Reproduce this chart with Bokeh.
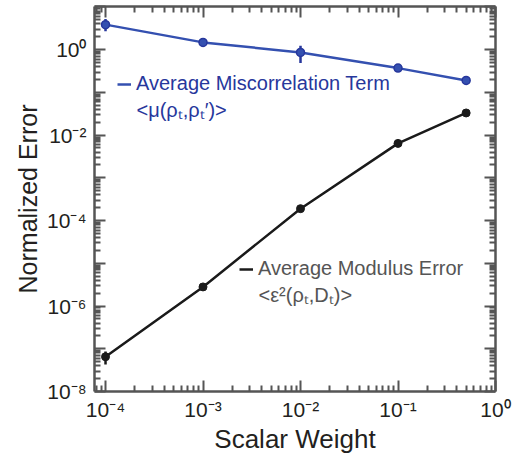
import numpy as np
from bokeh.plotting import figure
from bokeh.models import (LogAxis, FixedTicker, CustomJSTickFormatter, Label,
                          Range1d, ColumnDataSource, Legend, LegendItem)
from bokeh.embed import file_html
from bokeh.resources import INLINE

# ---- data ----
scalar_weight = [1e-4, 1e-3, 1e-2, 1e-1, 0.5]
miscorr = [3.85, 1.48, 0.86, 0.37, 0.19]
miscorr_lo = [2.7, 1.2, 0.49, 0.35, 0.18]
miscorr_hi = [5.2, 1.8, 1.24, 0.39, 0.20]
modulus = [6.5e-8, 2.8e-6, 1.9e-4, 6.4e-3, 0.033]
modulus_lo = [4.3e-8, 2.6e-6, 1.8e-4, 6.1e-3, 0.031]
modulus_hi = [8.6e-8, 3.0e-6, 2.0e-4, 6.7e-3, 0.035]

x_decades = [-4, -3, -2, -1, 0]
x_tick_labels = ["10\u207b\u2074", "10\u207b\u00b3", "10\u207b\u00b2", "10\u207b\u00b9", "10\u2070"]
y_decades = [-8, -7, -6, -5, -4, -3, -2, -1, 0, 1]
y_label_decades = [-8, -6, -4, -2, 0]
y_tick_labels = ["10\u207b\u2078", "10\u207b\u2076", "10\u207b\u2074", "10\u207b\u00b2", "10\u2070"]

legend1_line1 = "Average Miscorrelation Term"
legend1_line2 = "<\u03bc(\u03c1\u209c,\u03c1\u209c\u2032)>"
legend2_line1 = "Average Modulus Error"
legend2_line2 = "<\u03b5\u00b2(\u03c1\u209c,D\u209c)>"

BLUE = "#3450b0"
BLUE_DARK = "#27379c"
BLACK = "#1a1a1a"
AXIS = "#555555"
TXT = "#231f20"
FONT = "Liberation Sans"

x_start, x_end = 10 ** -4.113, 1.0
y_start, y_end = 1e-8, 10 ** 1.01

p = figure(width=512, height=456, x_axis_type="log", y_axis_type="log",
           x_range=Range1d(x_start, x_end), y_range=Range1d(y_start, y_end),
           output_backend="svg", toolbar_location=None,
           min_border_left=94, min_border_right=17, min_border_top=6,
           min_border_bottom=64)
p.outline_line_color = None
p.grid.visible = False
p.background_fill_color = "white"

xmaj = [10.0 ** e for e in x_decades]
xmin = [k * 10.0 ** e for e in range(-5, 1) for k in range(2, 10)]
ymaj = [10.0 ** e for e in y_decades]
ymin = [k * 10.0 ** e for e in range(-9, 2) for k in range(2, 10)]
blank = CustomJSTickFormatter(code="return ''")
js = """
const e = Math.round(Math.log10(tick));
const i = decs.indexOf(e);
return i >= 0 ? labs[i] : '';
"""
xfmt = CustomJSTickFormatter(args=dict(decs=x_decades, labs=x_tick_labels), code=js)
yfmt = CustomJSTickFormatter(args=dict(decs=y_label_decades, labs=y_tick_labels), code=js)


def style(ax, major, minor, fmt):
    ax.ticker = FixedTicker(ticks=major, minor_ticks=minor)
    ax.formatter = fmt
    ax.axis_line_color = AXIS
    ax.axis_line_width = 2.5
    ax.major_tick_line_color = AXIS
    ax.minor_tick_line_color = AXIS
    ax.major_tick_line_width = 2
    ax.minor_tick_line_width = 2
    ax.major_tick_in = 11
    ax.major_tick_out = 0
    ax.minor_tick_in = 6
    ax.minor_tick_out = 0
    ax.major_label_standoff = 0
    ax.major_label_text_font = FONT
    ax.major_label_text_font_size = "21px"
    ax.major_label_text_color = TXT
    ax.axis_label_text_font = FONT
    ax.axis_label_text_font_style = "normal"
    ax.axis_label_text_font_size = "25px"
    ax.axis_label_text_color = TXT


style(p.xaxis[0], xmaj, xmin, xfmt)
style(p.yaxis[0], ymaj, ymin, yfmt)
p.xaxis.axis_label = "Scalar Weight"
p.yaxis.axis_label = "Normalized Error"
p.xaxis.axis_label_text_font_size = "26px"
p.xaxis.major_label_standoff = 6
p.yaxis.major_label_standoff = 8
p.xaxis.axis_label_standoff = 0
p.yaxis.axis_label_standoff = 2

top = LogAxis()
style(top, xmaj, xmin, blank)
p.add_layout(top, "above")
right = LogAxis()
style(right, ymaj, ymin, blank)
p.add_layout(right, "right")

# ---- series ----
src1 = ColumnDataSource(dict(x=scalar_weight, y=miscorr, lo=miscorr_lo, hi=miscorr_hi))
src2 = ColumnDataSource(dict(x=scalar_weight, y=modulus, lo=modulus_lo, hi=modulus_hi))

p.segment(x0="x", y0="lo", x1="x", y1="hi", source=src1, line_color=BLUE_DARK, line_width=2.5)
l1 = p.line("x", "y", source=src1, line_color=BLUE, line_width=2.5)
p.scatter("x", "y", source=src1, size=8, fill_color=BLUE, line_color=BLUE_DARK, line_width=1.5)

p.segment(x0="x", y0="lo", x1="x", y1="hi", source=src2, line_color=BLACK, line_width=2.5)
l2 = p.line("x", "y", source=src2, line_color=BLACK, line_width=2.5)
p.scatter("x", "y", source=src2, size=8, fill_color=BLACK, line_color=BLACK)


# ---- legends ----
def make_legend(renderer, text, color, loc):
    lg = Legend(items=[LegendItem(label=text, renderers=[renderer])], location=loc,
                padding=0, margin=0, spacing=0, border_line_color=None,
                background_fill_alpha=0, glyph_width=14, glyph_height=20,
                label_standoff=5, label_text_font=FONT, label_text_font_size="20px",
                label_text_color=color, label_height=20)
    p.add_layout(lg)


make_legend(l1, legend1_line1, BLUE_DARK, (23, 296))
make_legend(l2, legend2_line1, "#555555", (145, 111))

p.add_layout(Label(x=42, y=282, x_units="screen", y_units="screen", text=legend1_line2,
                   text_font=FONT, text_font_size="20px", text_color=BLUE_DARK,
                   text_baseline="middle"))
p.add_layout(Label(x=164, y=97, x_units="screen", y_units="screen", text=legend2_line2,
                   text_font=FONT, text_font_size="20px", text_color="#555555",
                   text_baseline="middle"))

open("out.html", "w").write(file_html(p, INLINE))
